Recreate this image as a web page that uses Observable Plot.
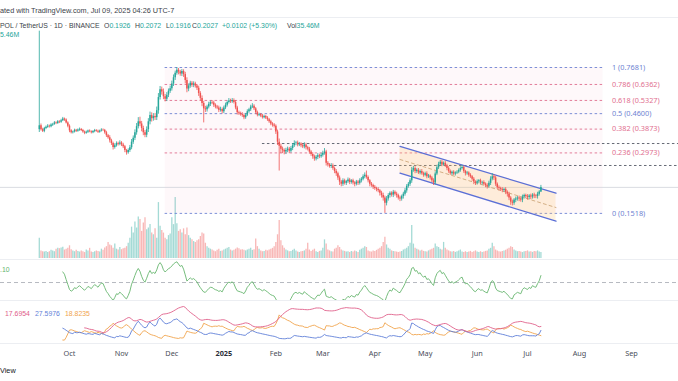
<!DOCTYPE html>
<html><head><meta charset="utf-8">
<script src="https://cdn.jsdelivr.net/npm/d3@7"></script>
<script src="https://cdn.jsdelivr.net/npm/@observablehq/plot@0.6"></script>
<style>
html,body{margin:0;padding:0;background:#fff;}
#root{position:relative;width:678px;height:381px;overflow:hidden;background:#fff;font-family:"Liberation Sans",Arial,sans-serif;}
#root svg{position:absolute;left:0;}
.t{position:absolute;white-space:nowrap;font-size:7.3px;line-height:7px;color:#3b3f4a;}
.s{font-size:6.9px;}
.g{color:#26a69a;}
.sep{position:absolute;left:0;width:678px;height:1px;background:#eceef2;}
</style></head><body><div id="root"></div>
<script>
// ---------------- data ----------------
const startDate = "2024-09-13";
const firstOpen = 0.385;
const closes = [
0.402,0.385,0.378,0.39,0.395,0.40,0.398,0.405,0.408,0.415,
0.412,0.42,0.418,0.425,0.433,0.428,0.415,0.40,0.38,0.372,
0.375,0.382,0.378,0.383,0.386,0.381,0.375,0.37,0.374,0.379,
0.376,0.372,0.377,0.381,0.378,0.374,0.379,0.383,0.382,0.372,
0.36,0.352,0.34,0.33,0.316,0.322,0.33,0.327,0.332,0.325,
0.318,0.305,0.298,0.305,0.315,0.335,0.35,0.372,0.398,0.42,
0.41,0.39,0.372,0.362,0.385,0.42,0.45,0.435,0.445,0.44,
0.475,0.55,0.60,0.585,0.555,0.54,0.565,0.59,0.607,0.64,
0.685,0.72,0.745,0.73,0.715,0.735,0.71,0.665,0.605,0.625,
0.645,0.63,0.64,0.625,0.61,0.575,0.545,0.515,0.485,0.48,
0.495,0.51,0.52,0.518,0.505,0.495,0.49,0.478,0.482,0.47,
0.49,0.505,0.52,0.53,0.525,0.532,0.52,0.49,0.465,0.46,
0.455,0.45,0.44,0.452,0.47,0.48,0.495,0.50,0.485,0.465,
0.452,0.455,0.448,0.44,0.445,0.438,0.43,0.42,0.41,0.405,
0.40,0.375,0.335,0.32,0.31,0.305,0.30,0.305,0.31,0.303,
0.312,0.322,0.33,0.332,0.325,0.328,0.322,0.318,0.325,0.315,
0.31,0.30,0.292,0.285,0.278,0.283,0.288,0.285,0.29,0.296,
0.30,0.265,0.26,0.256,0.258,0.25,0.242,0.236,0.225,0.215,
0.21,0.218,0.212,0.216,0.22,0.214,0.218,0.213,0.21,0.215,
0.212,0.218,0.222,0.228,0.232,0.226,0.218,0.21,0.207,0.203,
0.20,0.198,0.195,0.19,0.185,0.18,0.17,0.178,0.185,0.19,
0.186,0.192,0.188,0.185,0.18,0.178,0.183,0.188,0.195,0.205,
0.21,0.218,0.245,0.25,0.242,0.245,0.238,0.242,0.236,0.232,
0.236,0.228,0.23,0.225,0.218,0.213,0.235,0.252,0.262,0.268,
0.26,0.265,0.258,0.25,0.242,0.236,0.24,0.235,0.238,0.24,
0.245,0.25,0.253,0.242,0.236,0.238,0.232,0.228,0.222,0.215,
0.212,0.216,0.218,0.213,0.214,0.21,0.207,0.205,0.212,0.222,
0.228,0.225,0.21,0.202,0.20,0.198,0.196,0.198,0.192,0.188,
0.18,0.172,0.17,0.176,0.178,0.18,0.178,0.176,0.182,0.185,
0.183,0.181,0.184,0.182,0.186,0.184,0.183,0.188,0.1926,0.2027];
// upper / lower wick lengths beyond the body, in thousandths of USDT
const wickUp = [
748,8,6,5,6,7,5,6,5,6, 5,6,5,7,8,5,6,5,6,5, 4,5,4,5,6,4,5,4,5,4, 5,4,4,5,4,5,4,6,5,4,
6,5,8,6,5,7,6,5,8,5, 6,5,4,6,8,10,9,12,14,20, 22,12,10,9,12,15,18,14,15,16, 20,25,22,18,20,14,16,15,18,20,
22,18,23,15,14,16,14,18,20,15, 14,12,15,12,10,14,12,15,12,14, 10,12,10,12,10,8,9,10,12,8, 10,12,10,14,10,12,10,12,9,8,
8,10,8,9,10,8,10,14,8,7, 8,7,6,8,7,6,7,6,7,6, 7,6,8,12,8,7,6,8,7,6, 7,8,10,6,7,6,5,7,8,6,
5,6,5,6,5,6,7,5,6,7, 12,6,5,4,6,5,4,5,4,5, 4,5,4,3,5,4,3,4,3,4, 4,5,4,5,6,11,4,3,4,3,
4,3,4,3,4,5,4,5,4,3, 3,4,3,4,3,4,3,4,5,4, 4,5,8,6,5,4,5,4,5,4, 4,5,4,3,4,5,6,7,6,5,
5,4,5,4,5,4,3,4,3,4, 4,5,6,4,3,4,3,4,3,4, 3,4,3,4,3,4,3,4,5,6, 8,5,4,3,4,3,4,3,4,3,
4,3,4,3,4,3,4,3,4,3, 3,4,3,4,3,4,3,4,3,4.5];
const wickDown = [
12,6,5,6,5,4,6,5,6,4, 5,4,6,5,4,6,5,7,8,5, 5,4,5,4,5,4,5,6,4,5, 4,5,4,5,4,5,4,4,5,6,
7,6,8,7,9,6,5,6,5,6, 6,7,8,5,6,7,8,9,10,10, 12,14,12,10,10,12,14,16,12,14, 14,18,15,20,18,16,14,15,14,16,
18,20,15,22,18,20,22,25,25,18, 15,14,16,14,15,18,16,18,70,14, 12,10,12,10,12,10,9,12,10,12, 10,9,10,8,10,9,8,10,12,9,
8,9,10,8,7,8,9,8,9,10, 8,7,8,7,6,7,8,7,8,9, 8,10,12,77,15,10,9,8,7,8, 6,7,6,8,7,6,7,6,7,8,
6,7,6,8,7,6,7,6,5,6, 6,8,6,5,6,5,6,7,6,8, 6,5,4,5,4,5,4,5,6,4, 5,4,5,4,5,4,5,6,4,5,
4,5,4,6,5,6,18.2,5,4,5, 4,5,4,5,4,5,4,5,4,5, 4,5,6,5,6,5,4,5,4,5, 4,5,4,5,4,6,5,4,5,6,
5,4,5,6,5,4,5,4,5,4, 4,5,4,5,6,4,5,4,5,6, 5,4,5,4,5,4,5,6,4,5, 4,6,5,4,5,4,5,4,5,6,
5,6,5,4,5,4,5,4,5,4, 4,5,4,5,4,5,4,5,4,1.0];
// volume, millions
const volumes = [
120,45,40,38,42,35,40,48,44,40, 55,60,58,62,66,50,55,60,75,52, 45,40,48,42,38,45,40,35,50,44, 60,38,36,40,45,42,38,55,48,62,
70,95,80,75,60,85,55,50,65,52, 58,60,70,90,120,185,150,215,180,245, 230,160,210,240,170,180,200,150,140,175, 120,330,190,165,150,120,110,135,145,240,
200,360,205,160,170,150,175,140,180,135, 120,110,100,95,105,110,130,150,145,90, 70,60,55,50,45,40,48,55,42,45, 50,55,60,65,50,45,48,55,62,58,
50,52,48,45,50,55,60,48,52,115, 70,55,45,40,42,48,45,50,55,60, 70,95,140,225,105,75,60,50,45,40, 42,48,55,45,38,35,40,42,45,55,
90,50,42,48,55,40,36,42,45,60, 110,85,50,45,40,38,55,60,75,65, 50,45,42,38,40,35,42,38,45,40, 36,48,55,60,70,65,45,40,38,45,
42,48,55,60,70,95,125,80,60,55, 45,42,40,38,35,38,42,50,55,60, 70,90,195,85,60,55,50,45,48,42, 40,38,45,50,55,60,85,70,65,55,
50,95,60,50,45,40,38,42,36,40, 45,50,38,35,40,36,38,42,35,40, 45,38,36,40,35,38,42,45,55,60, 90,70,50,45,40,38,42,45,48,55,
60,70,65,50,45,40,42,38,35,40, 42,45,38,40,36,42,40,45,38,35.46];

const fibLevels = ["1","0.786","0.618","0.5","0.382","0.236","0"];
const fibPrices = [0.7681,0.6362,0.5327,0.4600,0.3873,0.2973,0.1518];
const fibColors = ["#6f83d2","#df6f8f","#df6f8f","#6f83d2","#df6f8f","#df6f8f","#6f83d2"];
const fibBandColor = "#e57399";
const fibStart = "2024-11-27", fibEnd = "2025-08-15";

const hLinePrices = [0.330, 0.2585];
const hLineStarts = ["2025-01-24", "2025-03-05"];

const channelDates = ["2025-04-16", "2025-07-18"];
const channelTop = [0.3193, 0.190];
const channelMid = [0.2764, 0.162];
const channelBottom = [0.2374, 0.1392];

const lastClose = 0.2027;

const monthTicks = ["2024-10-01","2024-11-01","2024-12-01","2025-01-01","2025-02-01","2025-03-01","2025-04-01","2025-05-01","2025-06-01","2025-07-01","2025-08-01","2025-09-01"];
const monthLabels = ["Oct","Nov","Dec","2025","Feb","Mar","Apr","May","Jun","Jul","Aug","Sep"];

const dmiLabels = ["17.6954","27.5976","18.8235"];
const dmiColors = ["#e0608a","#5f7fd8","#f0a44c"];
const rsiLabel = ".10";

// ---------------- build ----------------
const UP = "#26a69a", DOWN = "#ef5350";
const day0 = new Date(startDate + "T00:00:00Z");
const candles = closes.map((c, i) => {
  const o = i === 0 ? firstOpen : closes[i - 1];
  return {
    date: new Date(day0.getTime() + i * 864e5),
    open: o, close: c,
    high: Math.max(o, c) + wickUp[i] / 1000,
    low: Math.min(o, c) - wickDown[i] / 1000,
    volume: volumes[i], up: c >= o
  };
});

function rma(src, n) {
  const out = new Array(src.length).fill(NaN);
  let sum = 0, count = 0, prev = NaN;
  for (let i = 0; i < src.length; i++) {
    const v = src[i];
    if (Number.isNaN(v)) continue;
    if (Number.isNaN(prev)) { sum += v; count++; if (count === n) { prev = sum / n; out[i] = prev; } }
    else { prev = (prev * (n - 1) + v) / n; out[i] = prev; }
  }
  return out;
}
const N = 14;
const ch = closes.map((c, i) => i === 0 ? NaN : c - closes[i - 1]);
const ag = rma(ch.map(v => Number.isNaN(v) ? NaN : Math.max(v, 0)), N);
const al = rma(ch.map(v => Number.isNaN(v) ? NaN : Math.max(-v, 0)), N);
const rsi = ag.map((g, i) => Number.isNaN(g) ? NaN : (al[i] === 0 ? 100 : 100 - 100 / (1 + g / al[i])));

const pdm = [], mdm = [], tr = [];
candles.forEach((d, i) => {
  if (i === 0) { pdm.push(NaN); mdm.push(NaN); tr.push(NaN); return; }
  const p = candles[i - 1];
  const up = d.high - p.high, dn = p.low - d.low;
  pdm.push(up > dn && up > 0 ? up : 0);
  mdm.push(dn > up && dn > 0 ? dn : 0);
  tr.push(Math.max(d.high - d.low, Math.abs(d.high - p.close), Math.abs(d.low - p.close)));
});
const trR = rma(tr, N), pR = rma(pdm, N), mR = rma(mdm, N);
const plusDI = trR.map((t, i) => 100 * pR[i] / t);
const minusDI = trR.map((t, i) => 100 * mR[i] / t);
const dx = plusDI.map((p, i) => { const s = p + minusDI[i]; return Number.isNaN(s) ? NaN : (s === 0 ? 0 : 100 * Math.abs(p - minusDI[i]) / s); });
const adx = rma(dx, N);

const ind = candles.map((d, i) => ({date: d.date, rsi: rsi[i], adx: adx[i], plus: plusDI[i], minus: minusDI[i]}));
// pane auto-scale, as the charting app does
const dmiMax = d3.max(ind, d => d3.max([d.adx, d.plus, d.minus].filter(v => !Number.isNaN(v))));

const D = s => new Date(s + "T00:00:00Z");
const X = {type: "utc", domain: [D("2024-10-01"), D("2025-09-01")], range: [69, 631], axis: null};

const fibRows = fibPrices.map((p, i) => ({price: p, label: `${fibLevels[i]} (${p.toFixed(4)})`, color: fibColors[i], x1: D(fibStart), x2: D(fibEnd)}));
const fibBands = fibPrices.slice(0, -1).map((p, i) => ({y1: p, y2: fibPrices[i + 1], x1: D(fibStart), x2: D(fibEnd)}));
const hLines = hLinePrices.map((p, i) => ({price: p, x1: D(hLineStarts[i]), x2: D("2025-10-10")}));
const channel = channelDates.map((d, i) => ({date: D(d), top: channelTop[i], mid: channelMid[i], bottom: channelBottom[i]}));

const root = document.getElementById("root");
function place(el, top) { el.style.top = top + "px"; root.appendChild(el); }

// volume overlay (under price)
place(Plot.plot({
  width: 678, height: 242, margin: 0, x: X,
  y: {domain: [0, 360], range: [241, 180], axis: null},
  color: {type: "identity"},
  marks: [Plot.ruleX(candles, {x: "date", y1: 0, y2: "volume", stroke: d => d.up ? "rgba(38,166,154,0.42)" : "rgba(239,83,80,0.42)", strokeWidth: 1.3})]
}), 17);

// price pane
place(Plot.plot({
  width: 678, height: 242, margin: 0, x: X,
  y: {type: "log", domain: [0.1518, 0.7681], range: [195.9, 50], axis: null},
  color: {type: "identity"},
  style: {background: "transparent"},
  marks: [
    Plot.rect(fibBands, {x1: "x1", x2: "x2", y1: "y1", y2: "y2", fill: fibBandColor, fillOpacity: 0.05}),
    Plot.ruleY(fibRows, {y: "price", x1: "x1", x2: "x2", stroke: "color", strokeWidth: 0.9, strokeDasharray: "2.5,2.5"}),
    Plot.text(fibRows, {x: "x2", y: "price", text: "label", fill: "color", textAnchor: "start", dx: 9, fontSize: 7.3}),
    Plot.ruleY(hLines, {y: "price", x1: "x1", x2: "x2", stroke: "#555a66", strokeWidth: 0.9, strokeDasharray: "2.5,2.5"}),
    Plot.ruleY([lastClose], {stroke: "#cfd3da", strokeWidth: 0.8}),
    Plot.areaY(channel, {x: "date", y1: "bottom", y2: "top", fill: "#ffc46b", fillOpacity: 0.22}),
    Plot.line(channel, {x: "date", y: "mid", stroke: "#c8a070", strokeWidth: 0.8, strokeDasharray: "3,3"}),
    Plot.line(channel, {x: "date", y: "top", stroke: "#5b6fd6", strokeWidth: 1.3}),
    Plot.line(channel, {x: "date", y: "bottom", stroke: "#5b6fd6", strokeWidth: 1.3}),
    Plot.ruleX(candles, {x: "date", y1: "low", y2: "high", stroke: d => d.up ? UP : DOWN, strokeWidth: 0.8}),
    Plot.ruleX(candles, {x: "date", y1: "open", y2: "close", stroke: d => d.up ? UP : DOWN, strokeWidth: 1.5})
  ]
}), 17);

// RSI pane
place(Plot.plot({
  width: 678, height: 41, margin: 0, x: X,
  y: {domain: [19, 82], range: [42.7, 2.7], axis: null},
  marks: [
    Plot.ruleY([50], {stroke: "#a3a7b0", strokeWidth: 0.8, strokeDasharray: "4,3"}),
    Plot.line(ind.filter(d => !Number.isNaN(d.rsi)), {x: "date", y: "rsi", stroke: "#66b56e", strokeWidth: 0.9})
  ]
}), 259);

// DMI pane
place(Plot.plot({
  width: 678, height: 43, margin: 0, x: X,
  y: {domain: [0, dmiMax], range: [41, 6], axis: null},
  marks: [
    Plot.line(ind.filter(d => !Number.isNaN(d.minus)), {x: "date", y: "minus", stroke: dmiColors[2], strokeWidth: 0.9}),
    Plot.line(ind.filter(d => !Number.isNaN(d.plus)), {x: "date", y: "plus", stroke: dmiColors[1], strokeWidth: 0.9}),
    Plot.line(ind.filter(d => !Number.isNaN(d.adx)), {x: "date", y: "adx", stroke: dmiColors[0], strokeWidth: 0.9})
  ]
}), 300);

// time axis
const ticks = monthTicks.map((t, i) => ({date: D(t), label: monthLabels[i]}));
place(Plot.plot({
  width: 678, height: 20, margin: 0, x: X,
  marks: [
    Plot.text(ticks.filter(d => d.label !== "2025"), {x: "date", text: "label", fill: "#4a4e59", fontSize: 7.3}),
    Plot.text(ticks.filter(d => d.label === "2025"), {x: "date", text: "label", fill: "#2a2e39", fontSize: 7.3, fontWeight: "bold"})
  ]
}), 343);

// separators
[16.5, 259, 300, 343].forEach(y => { const s = document.createElement("div"); s.className = "sep"; s.style.top = y + "px"; root.appendChild(s); });

// texts (the reference picture is cropped on its left edge; its visible text is kept)
function txt(html, x, yCenter, cls, extra) {
  const el = document.createElement("div");
  el.className = "t" + (cls ? " " + cls : ""); el.innerHTML = html;
  el.style.left = x + "px"; el.style.top = (yCenter - 3.5) + "px";
  if (extra) Object.assign(el.style, extra);
  root.appendChild(el); return el;
}
txt('ated with TradingView.com, Jul 09, 2025 04:26 UTC-7', 0, 10);
txt('POL / TetherUS · 1D · BINANCE', 0, 25, "s");
txt('O<span class="g">0.1926</span>', 104, 25, "s");
txt('H<span class="g">0.2072</span>', 135, 25, "s");
txt('L<span class="g">0.1916</span>', 166, 25, "s");
txt('C<span class="g">0.2027</span>', 192, 25, "s");
txt('<span class="g">+0.0102 (+5.30%)</span>', 222, 25, "s");
txt('Vol<span class="g">35.46M</span>', 287, 25, "s");
txt('<span class="g">5.46M</span>', 0, 34.5, "s");
txt(`<span style="color:#66b56e">${rsiLabel}</span>`, 0, 269.5, "s");
txt(`<span style="color:${dmiColors[0]}">${dmiLabels[0]}</span>`, 5, 313, "s");
txt(`<span style="color:${dmiColors[1]}">${dmiLabels[1]}</span>`, 35, 313, "s");
txt(`<span style="color:${dmiColors[2]}">${dmiLabels[2]}</span>`, 65, 313, "s");
txt('View', 0, 370.5, "", {color: "#131722"});
</script></body></html>
